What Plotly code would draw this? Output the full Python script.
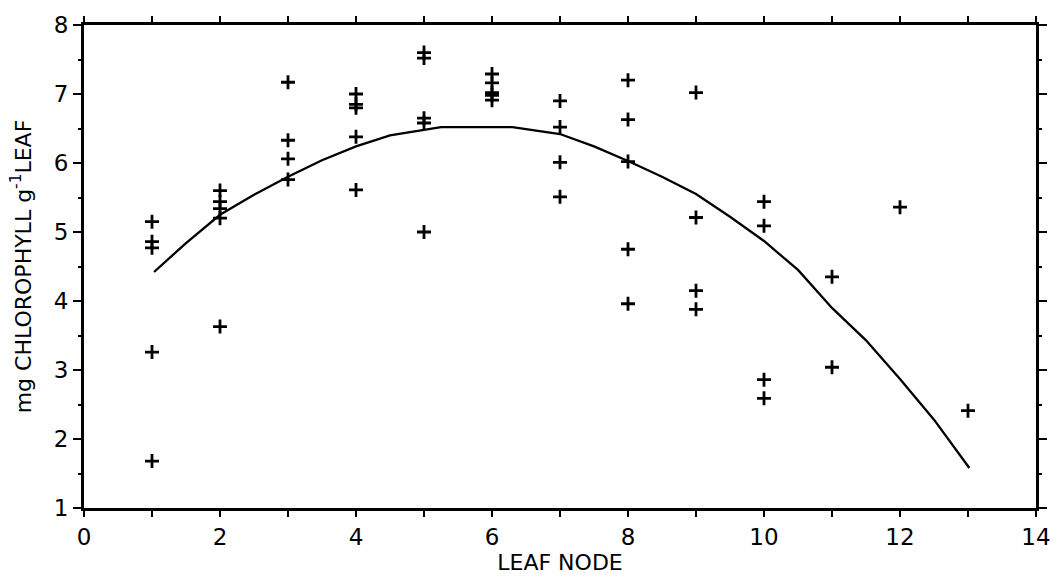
import plotly.graph_objects as go

# Observed data: leaf node vs chlorophyll content
leaf_node = [1, 1, 1, 1, 1,
             2, 2, 2, 2, 2,
             3, 3, 3, 3,
             4, 4, 4, 4, 4,
             5, 5, 5, 5, 5,
             6, 6, 6, 6, 6,
             7, 7, 7, 7,
             8, 8, 8, 8, 8,
             9, 9, 9, 9,
             10, 10, 10, 10,
             11, 11,
             12,
             13]
chlorophyll = [5.15, 4.86, 4.77, 3.26, 1.68,
               5.60, 5.44, 5.34, 5.20, 3.63,
               7.17, 6.33, 6.06, 5.76,
               7.00, 6.85, 6.80, 6.38, 5.61,
               7.60, 7.52, 6.65, 6.58, 5.00,
               7.29, 7.16, 7.02, 6.98, 6.91,
               6.90, 6.52, 6.01, 5.51,
               7.20, 6.63, 6.02, 4.75, 3.96,
               7.02, 5.21, 4.15, 3.88,
               5.44, 5.09, 2.86, 2.59,
               4.35, 3.04,
               5.36,
               2.41]

# Fitted curve
curve_x = [1.03, 1.5, 2, 2.5, 3, 3.5, 4, 4.5, 5, 5.25, 5.5, 6, 6.3, 6.5,
           7, 7.5, 8, 8.5, 9, 9.5, 10, 10.5, 11, 11.5, 12, 12.5, 13.02]
curve_y = [4.42, 4.84, 5.25, 5.54, 5.80, 6.04, 6.24, 6.40, 6.48, 6.52, 6.52, 6.52, 6.52, 6.49,
           6.42, 6.24, 6.03, 5.80, 5.55, 5.22, 4.87, 4.45, 3.90, 3.43, 2.87, 2.28, 1.58]

x_tick_vals = [0, 2, 4, 6, 8, 10, 12, 14]
x_tick_text = ["0", "2", "4", "6", "8", "10", "12", "14"]
y_tick_vals = [1, 2, 3, 4, 5, 6, 7, 8]
y_tick_text = ["1", "2", "3", "4", "5", "6", "7", "8"]

FONT = "DejaVu Sans"

fig = go.Figure()
fig.add_trace(go.Scatter(
    x=curve_x, y=curve_y, mode="lines",
    line=dict(color="black", width=2.3),
    showlegend=False, hoverinfo="skip"))
fig.add_trace(go.Scatter(
    x=leaf_node, y=chlorophyll, mode="markers",
    marker=dict(symbol="cross-thin", size=10, color="black",
                line=dict(color="black", width=2.8)),
    showlegend=False))

fig.update_layout(
    width=1063, height=580,
    margin=dict(l=84, r=16, t=25, b=72),
    paper_bgcolor="white", plot_bgcolor="white",
    font=dict(family=FONT, color="black", size=22),
    xaxis=dict(
        range=[0, 14], tickmode="array", tickvals=x_tick_vals, ticktext=x_tick_text,
        ticks="outside", ticklen=6, tickwidth=2, tickcolor="black",
        minor=dict(dtick=1, ticks="outside", ticklen=6, tickwidth=2, tickcolor="black"),
        showline=True, linecolor="black", linewidth=3, mirror="ticks",
        showgrid=False, zeroline=False,
        tickfont=dict(family=FONT, size=23, color="black"),
        title=dict(text="LEAF NODE", font=dict(family=FONT, size=22, color="black"), standoff=2),
    ),
    yaxis=dict(
        range=[1, 8], tickmode="array", tickvals=y_tick_vals, ticktext=y_tick_text,
        ticks="outside", ticklen=8, tickwidth=2, tickcolor="black",
        minor=dict(dtick=0.5, ticks="outside", ticklen=3, tickwidth=2, tickcolor="black"),
        showline=True, linecolor="black", linewidth=3, mirror="ticks",
        showgrid=False, zeroline=False,
        tickfont=dict(family=FONT, size=23, color="black"),
        title=dict(text="mg CHLOROPHYLL g<sup>-1</sup>LEAF",
                   font=dict(family=FONT, size=22, color="black"), standoff=17),
    ),
)

fig.write_html("out.html")
